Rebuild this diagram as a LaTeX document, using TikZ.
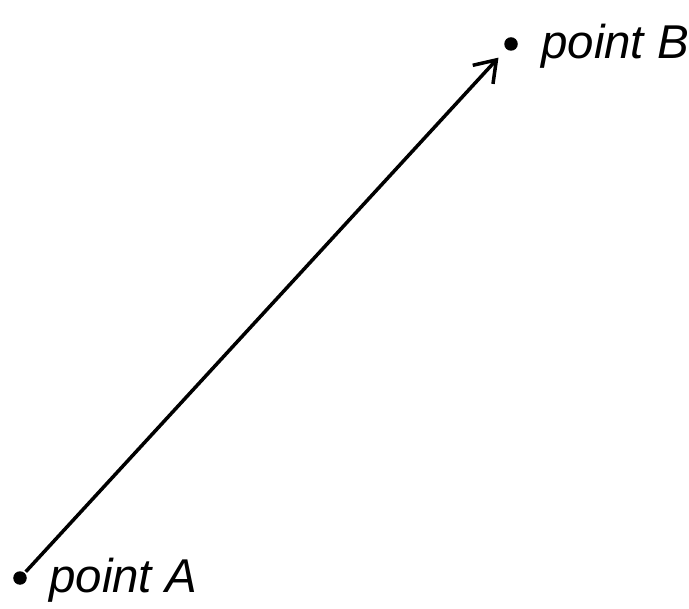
\documentclass[tikz,border=0pt]{standalone}
\usepackage{fontspec}
\setmainfont{Liberation Sans}
\usetikzlibrary{arrows.meta,positioning}

\begin{document}
\begin{tikzpicture}[thick, line width=2pt,
  pointdot/.style={circle, fill=black, inner sep=0pt, minimum size=0.27cm},
  ptname/.style={font=\fontsize{27}{30}\selectfont\itshape, inner sep=0pt, anchor=west}]

  \useasboundingbox (0,0) rectangle (13.78,12.16);

  \node[pointdot] (A) at (0.40,0.60) {};
  \node[pointdot] (B) at (10.22,11.28) {};
  \node[ptname] (labA) [right=0.38cm of A, yshift=-0.05cm] {point A};
  \node[ptname] (labB) [right=0.40cm of B, yshift=-0.05cm] {point B};

  \draw[-{Straight Barb[length=0.4cm,width=0.55cm]}, shorten >=0.2cm] (A) -- (B);

\end{tikzpicture}
\end{document}
